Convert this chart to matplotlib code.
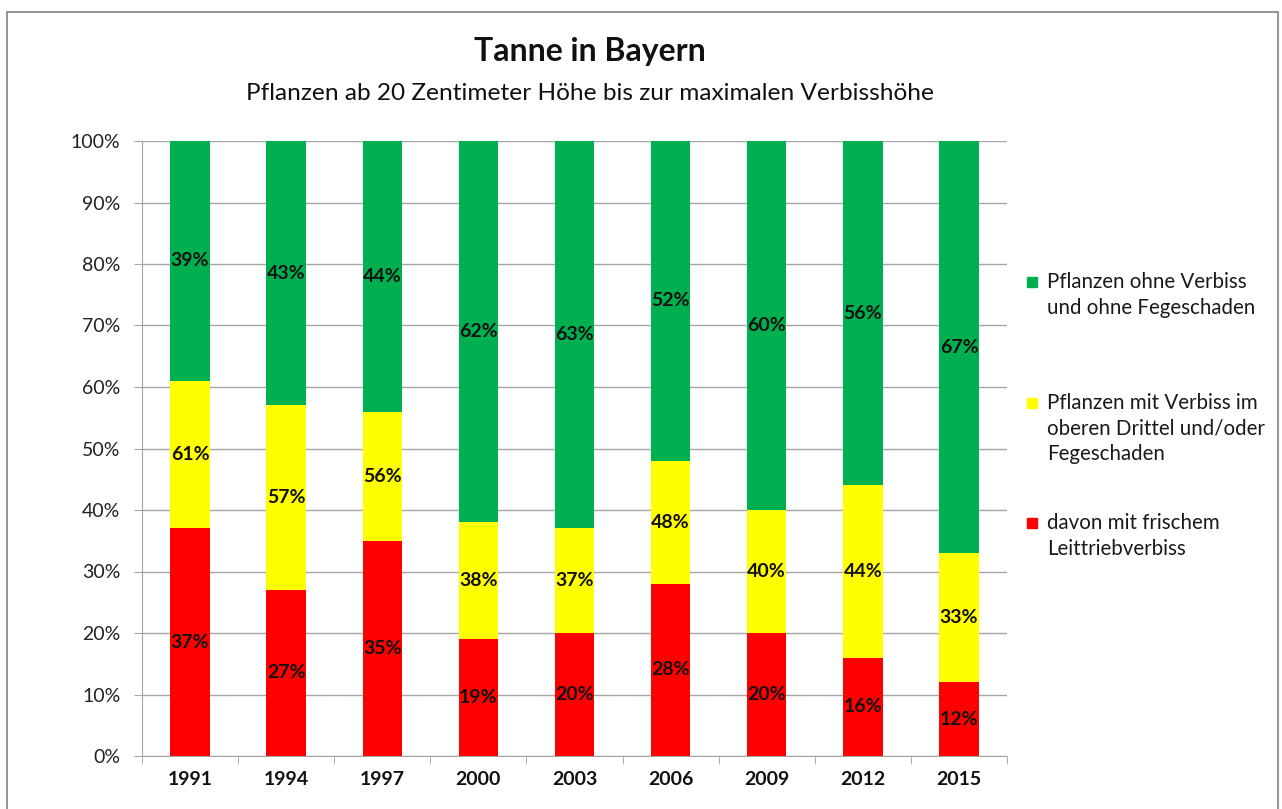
import matplotlib
matplotlib.use("Agg")
import matplotlib.pyplot as plt
from matplotlib.patches import Rectangle
import numpy as np

plt.rcParams['font.family'] = ['Lato', 'DejaVu Sans']

years = ["1991", "1994", "1997", "2000", "2003", "2006", "2009", "2012", "2015"]
red_vals = [37, 27, 35, 19, 20, 28, 20, 16, 12]          # davon mit frischem Leittriebverbiss
total_damaged = [61, 57, 56, 38, 37, 48, 40, 44, 33]     # Pflanzen mit Verbiss / Fegeschaden
green_vals = [39, 43, 44, 62, 63, 52, 60, 56, 67]        # ohne Verbiss

legend_labels = ["Pflanzen ohne Verbiss\nund ohne Fegeschaden",
                 "Pflanzen mit Verbiss im\noberen Drittel und/oder\nFegeschaden",
                 "davon mit frischem\nLeittriebverbiss"]

GREEN = "#00B050"
YELLOW = "#FFFF00"
RED = "#FF0000"

W, H = 1282, 809
fig = plt.figure(figsize=(W / 100, H / 100), dpi=100)

# outer border
fig.patches.append(Rectangle((7 / W, -0.05), (1278 - 7) / W, 1.05 - 12 / H,
                             transform=fig.transFigure, fill=False,
                             edgecolor="#8C8C8C", linewidth=1.3))

ax = fig.add_axes([142 / W, 1 - 756 / H, (1007 - 142) / W, (756 - 141) / H])

x = np.arange(len(years))
red = np.array(red_vals) / 100
tot = np.array(total_damaged) / 100
yel = tot - red
grn = np.array(green_vals) / 100
bw = 0.41

ax.bar(x, red, bw, color=RED, zorder=3)
ax.bar(x, yel, bw, bottom=red, color=YELLOW, zorder=3)
ax.bar(x, grn, bw, bottom=tot, color=GREEN, zorder=3)

for i in range(len(years)):
    ax.text(x[i], red[i] / 2, f"{red_vals[i]}%", ha="center", va="center",
            fontsize=14, fontweight="bold", color="#111111", zorder=4)
    ax.text(x[i], red[i] + yel[i] / 2, f"{total_damaged[i]}%", ha="center", va="center",
            fontsize=14, fontweight="bold", color="#111111", zorder=4)
    ax.text(x[i], tot[i] + grn[i] / 2, f"{green_vals[i]}%", ha="center", va="center",
            fontsize=14, fontweight="bold", color="#111111", zorder=4)

ax.set_xlim(-0.5, len(years) - 0.5)
ax.set_ylim(0, 1)
ax.set_yticks(np.arange(0, 1.01, 0.1))
ax.set_yticklabels([f"{int(round(v * 100))}%" for v in np.arange(0, 1.01, 0.1)])
ax.yaxis.grid(True, color="#A6A6A6", linewidth=1, zorder=0)
ax.set_xticks(x)
ax.set_xticklabels(years, fontweight="bold")
ax.set_xticks(np.arange(-0.5, len(years), 1), minor=True)
ax.tick_params(axis="x", which="major", length=0, pad=11, labelsize=14, colors="#111111")
ax.tick_params(axis="x", which="minor", length=6, color="#A6A6A6", direction="out")
ax.tick_params(axis="y", length=6, color="#A6A6A6", pad=9.5, labelsize=14, colors="#222222")
for s in ["top", "right"]:
    ax.spines[s].set_visible(False)
ax.spines["left"].set_color("#A6A6A6")
ax.spines["bottom"].set_color("#A6A6A6")

fig.text(590 / W, 1 - 52 / H, "Tanne in Bayern", ha="center", va="center",
         fontsize=23, fontweight="bold", color="#111111")
fig.text(590 / W, 1 - 93 / H, "Pflanzen ab 20 Zentimeter Höhe bis zur maximalen Verbisshöhe",
         ha="center", va="center", fontsize=17.6, color="#111111")

# legend (manual layout)
leg_colors = [GREEN, YELLOW, RED]
leg_y = [282, 403, 523]
for lab, c, yy in zip(legend_labels, leg_colors, leg_y):
    fig.patches.append(Rectangle((1027 / W, 1 - (yy + 5) / H), 10 / W, 10 / H,
                                 transform=fig.transFigure, color=c))
    fig.text(1047 / W, 1 - (yy - 10) / H, lab, ha="left", va="top",
             fontsize=14.8, color="#1a1a1a", linespacing=1.35)

fig.savefig("out.png", dpi=100)
